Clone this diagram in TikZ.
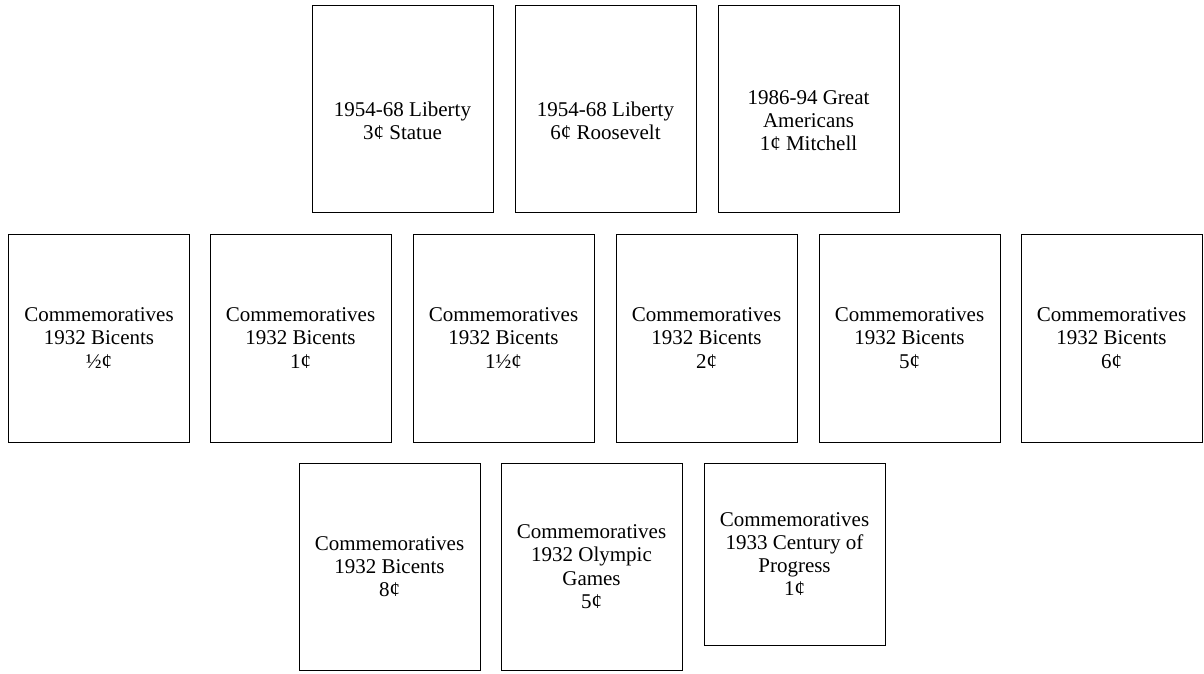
\documentclass[tikz,border=0pt]{standalone}
\usepackage{fontspec}
\setmainfont{Liberation Serif}
\tikzset{
  stamp/.style={draw=black, line width=1pt, minimum width=181pt, minimum height=207pt,
    inner sep=0pt, align=center, font=\fontsize{21}{23.3}\selectfont},
  lab/.style={inner sep=0pt, align=center, font=\fontsize{21}{23.3}\selectfont, yshift=-12pt},
}
\begin{document}
\begin{tikzpicture}[x=1pt,y=-1pt]
\useasboundingbox (0,0) rectangle (1204,673);
% top row
\node[stamp, label={[lab]center:{1954-68 Liberty\\3¢ Statue}}] (t1) at (402.5,108.5) {};
\node[stamp, label={[lab]center:{1954-68 Liberty\\6¢ Roosevelt}}] (t2) at (605.5,108.5) {};
\node[stamp, label={[lab]center:{1986-94 Great\\Americans\\1¢ Mitchell}}] (t3) at (808.5,108.5) {};
% middle row
\node[stamp, minimum height=208pt] (m1) at (99,338) {Commemoratives\\1932 Bicents\\½¢};
\node[stamp, minimum height=208pt] (m2) at (300.5,338) {Commemoratives\\1932 Bicents\\1¢};
\node[stamp, minimum height=208pt] (m3) at (503.5,338) {Commemoratives\\1932 Bicents\\1½¢};
\node[stamp, minimum height=208pt] (m4) at (706.5,338) {Commemoratives\\1932 Bicents\\2¢};
\node[stamp, minimum height=208pt] (m5) at (909.5,338) {Commemoratives\\1932 Bicents\\5¢};
\node[stamp, minimum height=208pt] (m6) at (1111.5,338) {Commemoratives\\1932 Bicents\\6¢};
% bottom row
\node[stamp] (b1) at (389.5,566.5) {Commemoratives\\1932 Bicents\\8¢};
\node[stamp] (b2) at (591.5,566.5) {Commemoratives\\1932 Olympic\\Games\\5¢};
\node[stamp, minimum height=182pt] (b3) at (794.5,554) {Commemoratives\\1933 Century of\\Progress\\1¢};
\end{tikzpicture}
\end{document}
